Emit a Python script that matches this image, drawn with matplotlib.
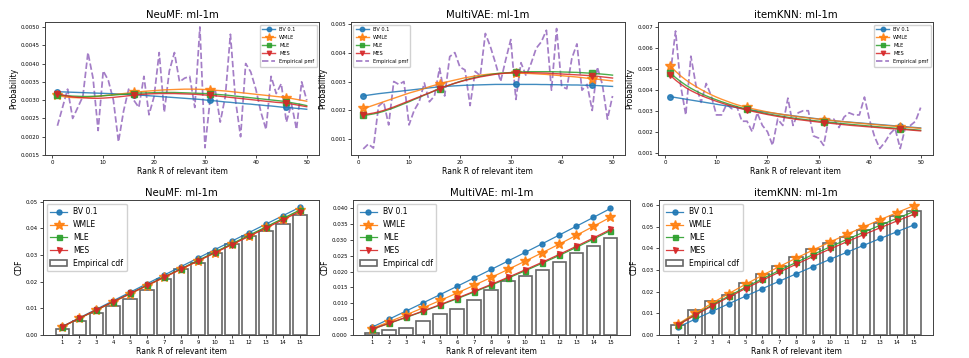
import numpy as np
import matplotlib
matplotlib.use("Agg")
import matplotlib.pyplot as plt
from matplotlib.ticker import FormatStrFormatter

ranks = np.arange(1, 51)
cdf_ranks = np.arange(1, 16)
labels = ["BV 0.1", "WMLE", "MLE", "MES"]
markers = ["o", "*", "s", "v"]
colors = ["C0", "C1", "C2", "C3"]

# all pmf values below are in units of 1e-4
neumf_pmf = [23, 28, 33, 25, 28, 31, 43, 36, 21.7, 38, 35.4, 30, 18.6, 27, 33, 30, 28, 36.5, 26, 31,
             43, 26.7, 38, 43, 35, 36, 36.5, 28, 50, 17, 30, 33, 24, 31, 48, 30, 20, 40, 37.7, 33,
             26.7, 22, 36.5, 31.8, 34.5, 24, 29, 22, 35, 30]
neumf_bv = [32.3, 32.25, 32.2, 32.15, 32.1, 32.05, 32.0, 31.95, 31.9, 31.85, 31.8, 31.75, 31.7, 31.6, 31.55,
            31.5, 31.4, 31.3, 31.2, 31.1, 31.0, 30.9, 30.8, 30.7, 30.6, 30.5, 30.4, 30.3, 30.2, 30.05,
            29.9, 29.8, 29.65, 29.5, 29.4, 29.25, 29.15, 29.0, 28.9, 28.75, 28.65, 28.5, 28.4, 28.25, 28.1,
            28.0, 27.9, 27.75, 27.65, 27.5]
neumf_wmle = [31.3, 31.0, 30.8, 30.7, 30.65, 30.7, 30.8, 30.9, 31.05, 31.2, 31.35, 31.5, 31.65, 31.8, 31.95,
              32.1, 32.25, 32.4, 32.5, 32.6, 32.7, 32.8, 32.85, 32.9, 32.95, 33.0, 33.0, 33.0, 32.95, 32.9,
              32.8, 32.7, 32.6, 32.5, 32.35, 32.2, 32.05, 31.9, 31.75, 31.6, 31.45, 31.3, 31.15, 31.0, 30.85,
              30.7, 30.45, 30.2, 29.95, 29.7]
neumf_mle = [31.5, 31.3, 31.2, 31.1, 31.05, 31.0, 31.0, 31.05, 31.1, 31.2, 31.3, 31.4, 31.5, 31.6, 31.7,
             31.8, 31.9, 31.95, 32.0, 32.05, 32.1, 32.1, 32.1, 32.1, 32.05, 32.0, 31.95, 31.9, 31.85, 31.8,
             31.75, 31.6, 31.5, 31.4, 31.25, 31.1, 30.95, 30.8, 30.65, 30.5, 30.35, 30.2, 30.05, 29.9, 29.75,
             29.6, 29.3, 29.05, 28.8, 28.5]
neumf_mes = [31.8, 31.4, 31.1, 30.9, 30.75, 30.65, 30.55, 30.5, 30.5, 30.55, 30.65, 30.75, 30.9, 31.05, 31.2,
             31.35, 31.5, 31.6, 31.7, 31.75, 31.8, 31.8, 31.8, 31.8, 31.75, 31.7, 31.65, 31.6, 31.5, 31.4,
             31.3, 31.2, 31.05, 30.9, 30.75, 30.6, 30.45, 30.3, 30.15, 30.0, 29.85, 29.7, 29.55, 29.4, 29.3,
             29.2, 28.95, 28.7, 28.45, 28.2]

vae_pmf = [6.7, 8.4, 7.0, 21.5, 23, 15, 30, 29, 30, 15, 20, 23, 29.5, 23, 25, 34.6, 25, 38.6, 40, 35,
           34, 21.7, 33.5, 32, 46.6, 42, 36.3, 30, 37.5, 44.5, 23.8, 36.5, 32, 36.3, 41.5, 43.7, 47.7, 27, 48.3, 28.3,
           27.5, 38, 43, 27, 29, 20, 35, 29, 17, 25]
vae_bv = [25.0, 25.3, 25.55, 25.8, 26.0, 26.2, 26.4, 26.6, 26.8, 27.0, 27.2, 27.4, 27.6, 27.8, 28.0,
          28.15, 28.3, 28.4, 28.5, 28.6, 28.7, 28.75, 28.8, 28.85, 28.9, 28.95, 29.0, 29.0, 29.0, 29.0,
          29.0, 29.0, 29.0, 29.0, 29.0, 28.95, 28.95, 28.9, 28.9, 28.85, 28.85, 28.8, 28.8, 28.75, 28.7,
          28.65, 28.6, 28.5, 28.4, 28.3]
vae_wmle = [20.7, 21.2, 21.8, 22.4, 23.0, 23.6, 24.2, 24.8, 25.4, 26.0, 26.5, 27.0, 27.6, 28.2, 28.7,
            29.2, 29.7, 30.1, 30.5, 30.9, 31.3, 31.6, 31.9, 32.2, 32.4, 32.6, 32.7, 32.8, 32.85, 32.9,
            32.9, 32.85, 32.8, 32.75, 32.65, 32.55, 32.45, 32.3, 32.15, 32.0, 31.85, 31.7, 31.55, 31.35, 31.15,
            31.0, 30.8, 30.6, 30.4, 30.2]
vae_mle = [18.3, 18.5, 18.8, 19.2, 19.7, 20.3, 20.9, 21.6, 22.3, 23.0, 23.8, 24.5, 25.3, 26.0, 26.8,
           27.5, 28.2, 28.8, 29.4, 30.0, 30.5, 31.0, 31.4, 31.8, 32.1, 32.4, 32.7, 32.9, 33.0, 33.1,
           33.2, 33.3, 33.35, 33.4, 33.4, 33.4, 33.4, 33.4, 33.35, 33.3, 33.25, 33.2, 33.15, 33.05, 32.95,
           32.85, 32.7, 32.55, 32.4, 32.2]
vae_mes = [18.6, 18.8, 19.1, 19.5, 20.0, 20.6, 21.2, 21.9, 22.6, 23.3, 24.0, 24.7, 25.4, 26.1, 26.8,
           27.5, 28.2, 28.8, 29.4, 29.9, 30.4, 30.8, 31.2, 31.6, 31.9, 32.2, 32.5, 32.7, 32.9, 33.0,
           33.1, 33.1, 33.1, 33.05, 33.0, 32.95, 32.9, 32.8, 32.7, 32.6, 32.5, 32.4, 32.3, 32.2, 32.1,
           32.0, 31.8, 31.6, 31.4, 31.2]

knn_pmf = [48, 68, 42, 28, 56, 42, 34, 43, 37, 28, 28, 33, 31, 32, 25, 25, 20, 29, 23, 20,
           13.5, 26, 23, 36, 23, 29, 30, 30, 18, 17, 13.5, 26, 26, 22, 27, 29, 28, 28, 36.5, 25.5,
           17.5, 12, 15, 19, 21.5, 12, 22, 23, 25, 31.5]
knn_bv = [36.7, 36.3, 35.9, 35.5, 35.1, 34.7, 34.3, 33.9, 33.5, 33.1, 32.7, 32.3, 31.9, 31.5, 31.1,
          30.7, 30.3, 29.95, 29.6, 29.25, 28.9, 28.55, 28.2, 27.9, 27.6, 27.3, 27.0, 26.7, 26.4, 26.1,
          25.8, 25.5, 25.25, 25.0, 24.8, 24.6, 24.4, 24.2, 24.0, 23.8, 23.6, 23.4, 23.2, 23.0, 22.8,
          22.6, 22.4, 22.2, 22.0, 21.8]
knn_wmle = [51.3, 48.8, 46.6, 44.7, 43.0, 41.5, 40.1, 38.8, 37.6, 36.5, 35.5, 34.6, 33.7, 32.9, 32.2,
            31.6, 31.0, 30.45, 29.95, 29.45, 29.0, 28.6, 28.2, 27.85, 27.5, 27.15, 26.85, 26.55, 26.25, 26.0,
            25.75, 25.5, 25.25, 25.0, 24.75, 24.5, 24.27, 24.05, 23.83, 23.62, 23.41, 23.2, 23.0, 22.8, 22.6,
            22.4, 22.2, 22.0, 21.8, 21.6]
knn_mle = [48.0, 45.8, 43.9, 42.2, 40.7, 39.4, 38.2, 37.1, 36.1, 35.2, 34.3, 33.5, 32.7, 32.0, 31.3,
           30.7, 30.1, 29.55, 29.05, 28.55, 28.1, 27.7, 27.3, 26.9, 26.55, 26.2, 25.9, 25.6, 25.3, 25.05,
           24.8, 24.55, 24.3, 24.05, 23.8, 23.57, 23.35, 23.13, 22.92, 22.71, 22.5, 22.3, 22.1, 21.9, 21.7,
           21.5, 21.3, 21.1, 20.9, 20.7]
knn_mes = [46.8, 44.6, 42.7, 41.0, 39.6, 38.4, 37.3, 36.3, 35.4, 34.5, 33.7, 32.9, 32.2, 31.5, 30.9,
           30.3, 29.75, 29.2, 28.7, 28.2, 27.75, 27.3, 26.9, 26.5, 26.15, 25.8, 25.5, 25.2, 24.9, 24.6,
           24.35, 24.1, 23.85, 23.6, 23.35, 23.1, 22.9, 22.7, 22.5, 22.3, 22.1, 21.9, 21.7, 21.5, 21.35,
           21.2, 21.0, 20.8, 20.6, 20.4]

panels = [
    ("NeuMF: ml-1m", neumf_pmf, [neumf_bv, neumf_wmle, neumf_mle, neumf_mes]),
    ("MultiVAE: ml-1m", vae_pmf, [vae_bv, vae_wmle, vae_mle, vae_mes]),
    ("itemKNN: ml-1m", knn_pmf, [knn_bv, knn_wmle, knn_mle, knn_mes]),
]

top_pos = [[0.0464, 0.567, 0.283, 0.371], [0.362, 0.567, 0.283, 0.371], [0.679, 0.567, 0.284, 0.371]]
bot_pos = [[0.0444, 0.064, 0.285, 0.377], [0.364, 0.064, 0.286, 0.377], [0.680, 0.064, 0.283, 0.377]]
top_ylim = [(0.0015, 0.00513), (0.00046, 0.00505), (0.00089, 0.00722)]
top_yticks = [np.arange(0.0015, 0.00501, 0.0005), np.arange(0.001, 0.00501, 0.001), np.arange(0.001, 0.00701, 0.001)]
top_fmt = ["%.4f", "%.3f", "%.3f"]
top_loc = ["upper right", "upper left", "upper right"]
bot_ylim = [(0, 0.0506), (0, 0.0425), (0, 0.0623)]
bot_yticks = [np.arange(0, 0.0501, 0.01), np.arange(0, 0.0401, 0.005), np.arange(0, 0.0601, 0.01)]
bot_fmt = ["%.2f", "%.3f", "%.2f"]

fig = plt.figure(figsize=(9.69, 3.58), dpi=100)

for i, (title, pmf, curves) in enumerate(panels):
    pmf = np.array(pmf) * 1e-4
    curves = [np.array(c) * 1e-4 for c in curves]

    # top: pmf
    ax = fig.add_axes(top_pos[i])
    for c, lab, m, col in zip(curves, labels, markers, colors):
        ax.plot(ranks, c, marker=m, markevery=15, ms=7.5 if m == "*" else 4,
                lw=1.0, color=col, alpha=0.85, label=lab, zorder=3)
    ax.plot(ranks, pmf, "--", color="C4", lw=1.25, alpha=0.85, label="Empirical pmf", zorder=2)
    ax.set_ylim(*top_ylim[i])
    ax.set_yticks(top_yticks[i])
    ax.yaxis.set_major_formatter(FormatStrFormatter(top_fmt[i]))
    ax.set_xticks([0, 10, 20, 30, 40, 50])
    ax.set_title(title, fontsize=7.3, pad=3)
    ax.set_xlabel("Rank R of relevant item", fontsize=5.5, labelpad=1.5)
    ax.set_ylabel("Probability", fontsize=5.5, labelpad=2)
    ax.tick_params(labelsize=3.9, length=2, width=0.5, pad=1.5)
    for s in ax.spines.values():
        s.set_linewidth(0.7)
        s.set_color("0.25")
    ax.legend(loc=top_loc[i], fontsize=3.6, markerscale=0.8, handlelength=2.6,
              borderpad=0.5, labelspacing=0.6, framealpha=0.9)

    # bottom: cdf
    ax = fig.add_axes(bot_pos[i])
    ax.bar(cdf_ranks, np.cumsum(pmf[:15]), width=0.8, facecolor="white",
           edgecolor="0.4", lw=1.2, label="Empirical cdf", zorder=1)
    for c, lab, m, col in zip(curves, labels, markers, colors):
        ax.plot(cdf_ranks, np.cumsum(c[:15]), marker=m, ms=7 if m == "*" else 3.6,
                lw=0.9, color=col, alpha=0.9, label=lab, zorder=3)
    ax.set_ylim(*bot_ylim[i])
    ax.set_yticks(bot_yticks[i])
    ax.yaxis.set_major_formatter(FormatStrFormatter(bot_fmt[i]))
    ax.set_xticks(cdf_ranks)
    ax.set_title(title, fontsize=7.3, pad=3)
    ax.set_xlabel("Rank R of relevant item", fontsize=5.5, labelpad=1.5)
    ax.set_ylabel("CDF", fontsize=5.5, labelpad=2)
    ax.tick_params(labelsize=3.9, length=2, width=0.5, pad=1.5)
    for s in ax.spines.values():
        s.set_linewidth(0.7)
        s.set_color("0.25")
    ax.legend(loc="upper left", fontsize=5.5, handlelength=2.2, borderpad=0.45,
              labelspacing=0.5, framealpha=0.9)

fig.savefig("out.png", dpi=100)
